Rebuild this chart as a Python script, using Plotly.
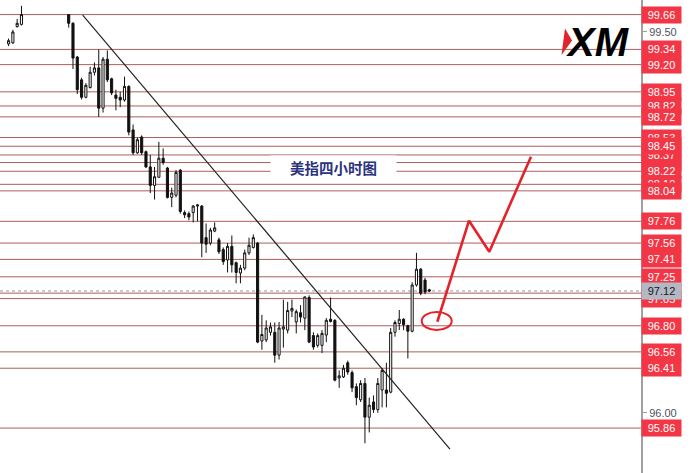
import plotly.graph_objects as go

# ---------------- data ----------------
bar_index = [0, 1, 2, 3] + list(range(14, 99))
opens = [99.39, 99.40, 99.55, 99.57,
         99.66, 99.58, 99.27, 99.06, 98.90, 98.99, 99.13, 99.17, 98.80, 99.25,
         99.07, 98.92, 98.90, 98.875, 99.00, 98.60, 98.39, 98.535, 98.40, 98.26,
         98.09, 98.165, 98.34, 98.25, 97.98, 98.00, 98.23, 97.84, 97.83, 97.84,
         97.90, 97.90, 97.61, 97.56, 97.67, 97.59, 97.50, 97.405, 97.53, 97.38,
         97.285, 97.33, 97.47, 97.52, 97.56, 96.66, 96.67, 96.74, 96.74, 96.53,
         96.77, 96.76, 96.935, 96.835, 96.92, 96.87, 97.06, 96.71, 96.62, 96.62,
         96.715, 96.86, 96.85, 96.32, 96.33, 96.46, 96.37, 96.24, 96.12, 96.27,
         95.96, 96.10, 96.03, 96.21, 96.21, 96.19, 96.74, 96.82, 96.86, 96.80,
         96.75, 97.175, 97.32, 97.22, 97.13]
highs = [99.44, 99.52, 99.62, 99.74,
         99.66, 99.59, 99.28, 99.08, 99.03, 99.18, 99.22, 99.34, 99.27, 99.33,
         99.08, 98.97, 98.95, 99.09, 99.01, 98.65, 98.53, 98.55, 98.41, 98.37,
         98.26, 98.49, 98.43, 98.26, 98.07, 98.23, 98.24, 97.86, 97.85, 97.91,
         97.92, 97.91, 97.74, 97.70, 97.75, 97.61, 97.52, 97.56, 97.63, 97.39,
         97.36, 97.50, 97.61, 97.64, 97.57, 96.90, 96.85, 96.83, 96.83, 96.835,
         97.04, 97.02, 97.04, 96.95, 96.99, 97.07, 97.08, 96.74, 96.73, 96.76,
         96.87, 97.06, 96.86, 96.39, 96.44, 96.48, 96.39, 96.27, 96.30, 96.32,
         96.14, 96.16, 96.32, 96.41, 96.46, 96.78, 96.85, 96.945, 96.87, 96.81,
         97.20, 97.47, 97.33, 97.24, 97.14]
lows = [99.37, 99.39, 99.54, 99.56,
        99.54, 99.16, 98.93, 98.88, 98.89, 98.98, 99.10, 98.72, 98.76, 99.04,
        98.92, 98.78, 98.81, 98.86, 98.55, 98.37, 98.38, 98.37, 98.25, 98.02,
        97.96, 98.16, 98.28, 97.97, 97.89, 97.98, 97.83, 97.79, 97.77, 97.75,
        97.76, 97.43, 97.47, 97.54, 97.66, 97.46, 97.36, 97.29, 97.29, 97.19,
        97.19, 97.31, 97.45, 97.51, 96.64, 96.58, 96.65, 96.71, 96.46, 96.49,
        96.60, 96.73, 96.88, 96.73, 96.83, 96.76, 96.64, 96.58, 96.60, 96.55,
        96.65, 96.83, 96.29, 96.23, 96.32, 96.35, 96.19, 96.07, 96.10, 95.72,
        95.82, 96.00, 96.00, 96.05, 96.05, 96.18, 96.70, 96.76, 96.76, 96.50,
        96.74, 97.16, 97.08, 97.09, 97.11]
closes = [99.42, 99.50, 99.58, 99.66,
          99.58, 99.26, 98.97, 98.90, 99.01, 99.13, 99.17, 98.80, 99.25, 99.06,
          98.94, 98.89, 98.875, 99.00, 98.58, 98.39, 98.51, 98.39, 98.26, 98.09,
          98.17, 98.34, 98.30, 97.98, 98.02, 98.21, 97.85, 97.82, 97.80, 97.90,
          97.91, 97.56, 97.55, 97.68, 97.70, 97.48, 97.39, 97.53, 97.36, 97.29,
          97.33, 97.47, 97.54, 97.61, 96.65, 96.72, 96.78, 96.79, 96.53, 96.78,
          96.79, 96.94, 96.96, 96.93, 96.88, 97.065, 96.65, 96.605, 96.71, 96.73,
          96.85, 96.84, 96.30, 96.34, 96.41, 96.375, 96.23, 96.14, 96.27, 95.96,
          96.07, 96.03, 96.27, 96.39, 96.18, 96.74, 96.83, 96.86, 96.81, 96.75,
          97.175, 97.32, 97.10, 97.11, 97.12]

level_values = [99.66, 99.34, 99.20, 98.95, 98.82, 98.72, 98.53, 98.45, 98.37,
                98.30, 98.22, 98.10, 98.04, 97.76, 97.56, 97.41, 97.25, 97.10,
                97.05, 96.80, 96.56, 96.41, 95.86]
hidden_labels = [98.30, 98.10, 97.10, 97.05, 98.53, 98.37]
current_price = 97.12
axis_ticks = [99.50, 96.00]
axis_ticktext = ["99.50", "96.00"]

trend_x = [17.26, 102.8]
trend_y = [99.656, 95.667]

forecast_x = [99.86, 107.24, 111.97, 121.68]
forecast_y = [96.837, 97.766, 97.481, 98.354]
circle_box = [96.23, 96.761, 103.21, 96.926]  # x0, y0, x1, y1

title_text = "美指四小时图"
title_pos = [75.7, 98.255]

x_range = [-2.0, 147.3]
y_range = [95.447, 99.794]

# ---------------- figure ----------------
fig = go.Figure()

fig.add_trace(go.Candlestick(
    x=bar_index, open=opens, high=highs, low=lows, close=closes,
    increasing=dict(line=dict(color="#111111", width=1), fillcolor="#ffffff"),
    decreasing=dict(line=dict(color="#111111", width=1), fillcolor="#111111"),
    whiskerwidth=0, showlegend=False, hoverinfo="skip",
))

fig.add_trace(go.Scatter(
    x=trend_x, y=trend_y, mode="lines",
    line=dict(color="#222222", width=1.2), showlegend=False, hoverinfo="skip",
))

fig.add_trace(go.Scatter(
    x=forecast_x, y=forecast_y, mode="lines",
    line=dict(color="#e3222a", width=2.6), showlegend=False, hoverinfo="skip",
))

shapes = []
for v in level_values:
    shapes.append(dict(type="line", xref="paper", x0=0, x1=1, yref="y", y0=v, y1=v,
                       line=dict(color="#a8605c", width=1), layer="below"))
shapes.append(dict(type="line", xref="paper", x0=0, x1=1, yref="y",
                   y0=current_price, y1=current_price,
                   line=dict(color="#9598a1", width=1, dash="dot"), layer="below"))
shapes.append(dict(type="circle", xref="x", yref="y",
                   x0=circle_box[0], y0=circle_box[1], x1=circle_box[2], y1=circle_box[3],
                   line=dict(color="#e3222a", width=2)))
# XM logo red wedge (paper coords)
pw, ph = 641.0, 473.0
tri = [(565, 28.5), (572, 40.5), (561.5, 55)]
path = "M " + " L ".join(f"{x/pw:.4f},{1 - y/ph:.4f}" for x, y in tri) + " Z"
shapes.append(dict(type="path", xref="paper", yref="paper", path=path,
                   fillcolor="#e3222a", line=dict(width=0)))

annotations = []
label_font = dict(family="Liberation Sans, Arial, sans-serif", size=11, color="#ffffff")
ordered = hidden_labels + [v for v in level_values if v not in hidden_labels]
for v in ordered:
    annotations.append(dict(x=1, xref="paper", xanchor="left", y=v, yref="y",
                            yanchor="middle",
                            text=f"{v:.2f}", showarrow=False, bgcolor="#f23645",
                            font=label_font, width=36, height=13, borderpad=1.5))
annotations.append(dict(x=1, xref="paper", xanchor="left", y=current_price, yref="y",
                        yanchor="middle",
                        text=f"{current_price:.2f}", showarrow=False, bgcolor="#b4b8c2",
                        font=dict(family="Liberation Sans, Arial, sans-serif", size=11,
                                  color="#131722"),
                        width=36, height=13, borderpad=1.5))
annotations.append(dict(x=title_pos[0], y=title_pos[1], xref="x", yref="y",
                        xanchor="center", yanchor="middle",
                        text=f"<b>{title_text}</b>", showarrow=False, bgcolor="#ffffff",
                        width=123, height=20,
                        font=dict(family="Noto Sans CJK SC", size=14.5, color="#2b3380")))
annotations.append(dict(x=598 / pw, y=1 - 41.5 / ph, xref="paper", yref="paper",
                        xanchor="center", yanchor="middle",
                        text="<b><i>XM</i></b>", showarrow=False,
                        font=dict(family="Liberation Sans, Arial, sans-serif", size=40,
                                  color="#000000")))

fig.update_layout(
    width=695, height=473,
    margin=dict(l=0, r=54, t=0, b=0),
    paper_bgcolor="#ffffff", plot_bgcolor="#ffffff",
    shapes=shapes, annotations=annotations,
    showlegend=False,
    xaxis=dict(range=x_range, visible=False, showgrid=False, zeroline=False,
               rangeslider=dict(visible=False)),
    yaxis=dict(range=y_range, side="right", showgrid=False, zeroline=False,
               tickvals=axis_ticks, ticktext=axis_ticktext, ticks="outside",
               ticklen=4, tickcolor="#9e9e9e",
               tickfont=dict(family="Liberation Sans, Arial, sans-serif", size=11,
                             color="#50535e"),
               showline=True, linecolor="#a0a0a0", linewidth=2),
)

fig.write_html("out.html", config={"displayModeBar": False},
               post_script="document.body.style.margin='0px';document.body.style.overflow='hidden';")
